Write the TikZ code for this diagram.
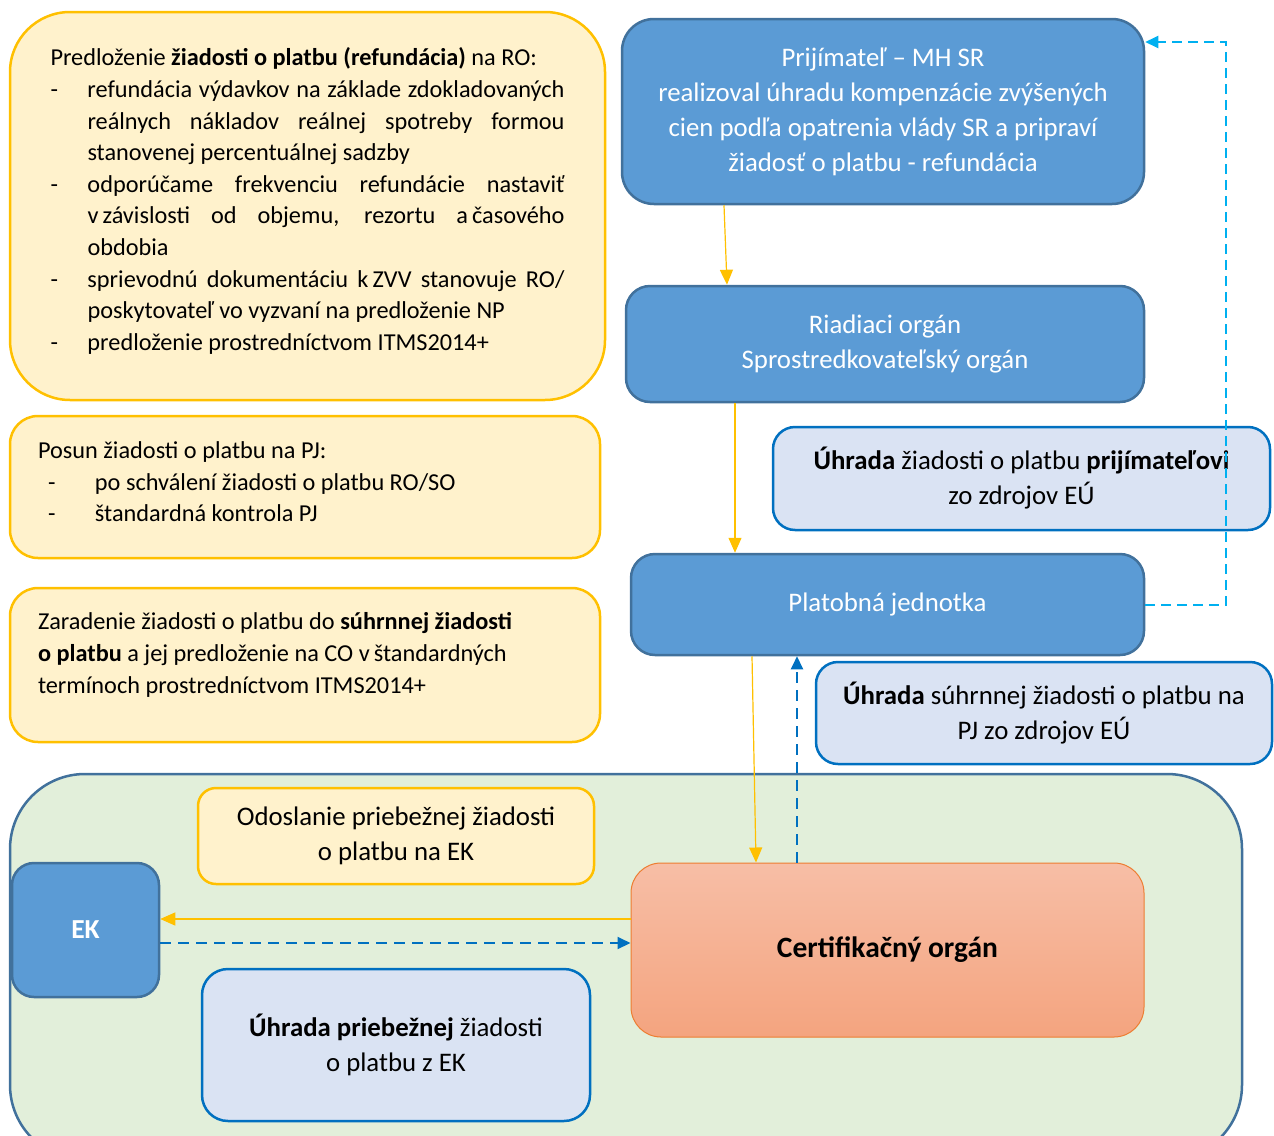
\documentclass[tikz,border=0pt]{standalone}
\usepackage{fontspec}
\setmainfont{Carlito}
\usetikzlibrary{arrows.meta,positioning}

\definecolor{notefill}{HTML}{FFF2CC}
\definecolor{noteline}{HTML}{FFC000}
\definecolor{unitfill}{HTML}{5B9BD5}
\definecolor{unitline}{HTML}{41719C}
\definecolor{payfill}{HTML}{DAE3F3}
\definecolor{payline}{HTML}{0070C0}
\definecolor{zonefill}{HTML}{E2EFDA}
\definecolor{zoneline}{HTML}{41719C}
\definecolor{certtop}{HTML}{F7BEA6}
\definecolor{certbot}{HTML}{F4A47F}
\definecolor{certline}{HTML}{ED7D31}
\definecolor{backcyan}{HTML}{00B0F0}

\tikzset{
  note/.style={draw=noteline, fill=notefill, line width=2.5pt, rounded corners=28pt,
    align=flush left, inner ysep=0pt, font=\fontsize{24.3}{31.6}\selectfont},
  unit/.style={draw=unitline, fill=unitfill, line width=2.5pt, rounded corners=24pt,
    text=white, align=center, inner sep=0pt, font=\fontsize{26.8}{35}\selectfont},
  pay/.style={draw=payline, fill=payfill, line width=2.5pt, rounded corners=22pt,
    align=center, inner sep=0pt, font=\fontsize{26.8}{35}\selectfont},
  flow/.style={draw=noteline, line width=1.2pt, -{Triangle[length=15pt,width=13pt]}},
  back/.style={draw=payline, line width=2pt, dash pattern=on 11pt off 7pt,
    -{Triangle[length=13pt,width=12pt]}},
}

\newcommand{\dashitem}[1]{\par\hangindent=37pt\hangafter=1\noindent\makebox[37pt][l]{-}#1}

\begin{document}
\begin{tikzpicture}[x=1pt,y=-1pt]
\def\xl{305}
\def\xr{887.5}

\clip (0,0) rectangle (1274,1135);

% left column: notes
\node[note, rounded corners=60pt, align=justify, text width=514pt, inner xsep=40.5pt,
  minimum height=388pt] (ro) at (307.5,206) {%
  \noindent Predloženie \textbf{žiadosti o platbu (refundácia)} na RO:
  \dashitem{refundácia výdavkov na základe zdokladovaných\linebreak reálnych nákladov reálnej spotreby formou\linebreak stanovenej percentuálnej sadzby}
  \dashitem{odporúčame frekvenciu refundácie nastaviť\linebreak v\,závislosti od objemu, rezortu a\,časového\linebreak obdobia}
  \dashitem{sprievodnú dokumentáciu k\,ZVV stanovuje RO/\linebreak poskytovateľ vo vyzvaní na predloženie NP}
  \dashitem{predloženie prostredníctvom ITMS2014+}
  \par\kern10pt};

\node[note, text width=534pt, inner xsep=28pt, minimum height=142pt] (pj) at (\xl,487) {%
  Posun žiadosti o platbu na PJ:\\
  \hspace*{10pt}\makebox[47pt][l]{-}po schválení žiadosti o platbu RO/SO\\
  \hspace*{10pt}\makebox[47pt][l]{-}štandardná kontrola PJ
  \par\kern10pt};

\node[note, text width=534pt, inner xsep=28pt, minimum height=154pt] (co) at (\xl,665) {%
  Zaradenie žiadosti o platbu do \textbf{súhrnnej žiadosti}\\
  \textbf{o platbu} a jej predloženie na CO v\,štandardných\\
  termínoch prostredníctvom ITMS2014+
  \par\kern20pt};

% right column: bodies
\node[unit, rounded corners=32pt, minimum width=522pt, minimum height=185pt] (prij) at (883,111.5)
  {Prijímateľ – MH SR\\ realizoval úhradu kompenzácie zvýšených\\ cien podľa opatrenia vlády SR a pripraví\\ žiadosť o platbu - refundácia};
\node[unit, minimum width=518pt, minimum height=116pt] (riad) at (885,344)
  {Riadiaci orgán\\ Sprostredkovateľský orgán};
\node[pay, minimum width=497pt, minimum height=103pt] (uhrprij) at (1021.5,478.5)
  {\textbf{Úhrada} žiadosti o platbu \textbf{prijímateľovi}\\ zo zdrojov EÚ};
\node[unit, minimum width=513pt, minimum height=101pt] (plat) at (\xr,604.5)
  {Platobná jednotka};
\node[pay, minimum width=456pt, minimum height=102pt] (uhrsuh) at (1044,713)
  {\textbf{Úhrada} súhrnnej žiadosti o platbu na\\ PJ zo zdrojov EÚ};

% bottom zone
\filldraw[fill=zonefill, draw=zoneline, line width=2.5pt, rounded corners=75pt]
  (10,774) rectangle (1242,1160);

\node[note, align=center, inner sep=0pt, rounded corners=18pt, minimum width=396pt,
  minimum height=96pt, font=\fontsize{26.8}{35}\selectfont] (odosl) at (396,836)
  {Odoslanie priebežnej žiadosti\\ o platbu na EK};
\node[unit, rounded corners=22pt, minimum width=147pt, minimum height=134pt,
  font=\fontsize{27.5}{35}\selectfont\bfseries] (ek) at (85.5,930) {EK};
\node[pay, rounded corners=26pt, minimum width=388pt, minimum height=152pt] (uhrprieb) at (396,1045)
  {\textbf{Úhrada priebežnej} žiadosti\\ o platbu z EK};
\node[draw=certline, line width=1pt, top color=certtop, bottom color=certbot, rounded corners=30pt,
  minimum width=513pt, minimum height=174pt, font=\fontsize{29.5}{35}\selectfont\bfseries] (cert) at (\xr,950)
  {Certifikačný orgán};

% connectors
\draw[flow] ([xshift=-159pt]prij.south) -- ([xshift=-158pt]riad.north);
\draw[flow] ([xshift=-150pt]riad.south) -- ([xshift=-152.5pt]plat.north);
\draw[flow] ([xshift=-135.5pt]plat.south) -- ([xshift=-131.5pt]cert.north);
\draw[back] ([xshift=-90.5pt]cert.north) -- ([xshift=-90.5pt]plat.south);
\draw[back, draw=backcyan, dash pattern=on 10pt off 6pt] (plat.east) -- ++(81,0) |- ([yshift=69.5pt]prij.east);
\draw[flow] ([yshift=31pt]cert.west) -- ([yshift=11pt]ek.east);
\draw[back] ([yshift=-13pt]ek.east) -- ([yshift=7pt]cert.west);

\end{tikzpicture}
\end{document}
